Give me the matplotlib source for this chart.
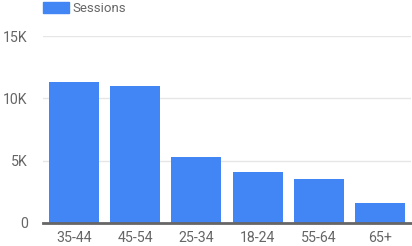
import matplotlib
matplotlib.use("Agg")
import matplotlib.pyplot as plt
from matplotlib.patches import Patch

# Sessions by age group
age_groups = ["35-44", "45-54", "25-34", "18-24", "55-64", "65+"]
sessions = [11350, 10950, 5300, 4090, 3520, 1590]
y_ticks = [0, 5000, 10000, 15000]
y_tick_labels = ["0", "5K", "10K", "15K"]

plt.rcParams['font.family'] = ['Roboto', 'DejaVu Sans']
bar_color = "#4285f4"
text_color = "#666666"

fig = plt.figure(figsize=(4.12, 2.46), dpi=100)
ax = fig.add_axes([43 / 412, 23 / 246, 368 / 412, (223 - 36) / 246])

ax.bar(range(len(age_groups)), sessions, width=0.82, color=bar_color, zorder=2)
ax.set_xlim(-0.5, len(age_groups) - 0.5)
ax.set_ylim(0, 15000)
ax.set_yticks(y_ticks)
ax.set_yticklabels(y_tick_labels)
ax.set_xticks(range(len(age_groups)))
ax.set_xticklabels(age_groups)

ax.grid(axis="y", color="#e6e6e6", linewidth=1, zorder=0)
for s in ["top", "right", "left"]:
    ax.spines[s].set_visible(False)
ax.spines["bottom"].set_color("#666666")
ax.spines["bottom"].set_linewidth(2)
ax.spines["bottom"].set_zorder(3)
ax.tick_params(axis="both", length=0, labelsize=10.2, colors=text_color)
ax.tick_params(axis="y", pad=11)
ax.tick_params(axis="x", pad=6)

handle = Patch(color=bar_color, label="Sessions")
fig.legend(handles=[handle], loc="upper left", bbox_to_anchor=(43 / 412, 1 - 2 / 246),
           frameon=False, fontsize=9.5, labelcolor=text_color,
           borderpad=0, borderaxespad=0,
           handlelength=1.97, handleheight=0.9, handletextpad=0.25)

fig.savefig("out.png", dpi=100)
plt.close(fig)
